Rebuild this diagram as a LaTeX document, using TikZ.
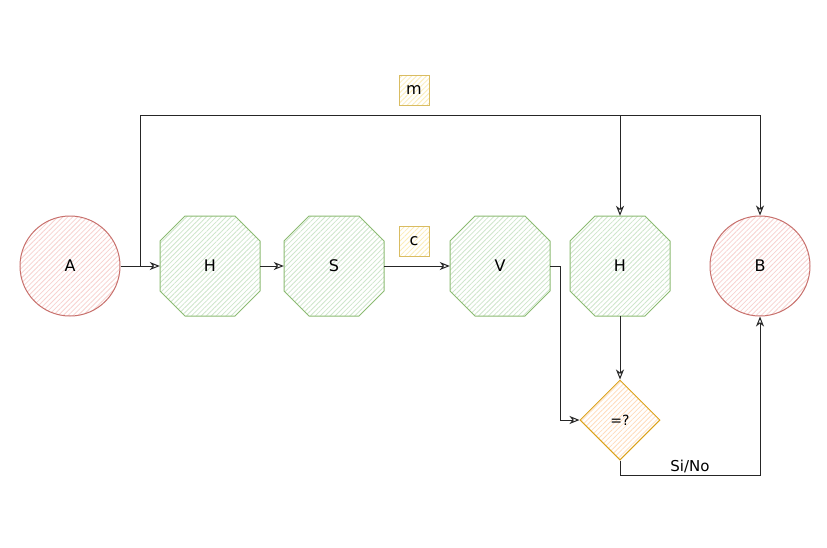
\documentclass[tikz,border=0pt]{standalone}
\usepackage{fontspec}
\setmainfont{DejaVu Sans}
\usetikzlibrary{arrows.meta,patterns.meta,shapes.geometric}
\definecolor{redst}{HTML}{C8706C}
\definecolor{redhatch}{HTML}{F8D2D0}
\definecolor{greenst}{HTML}{8CBB72}
\definecolor{greenhatch}{HTML}{CFE6CC}
\definecolor{orangest}{HTML}{DBA21A}
\definecolor{orangehatch}{HTML}{FFDCBC}
\definecolor{yellowst}{HTML}{D9BC62}
\definecolor{yellowhatch}{HTML}{FCEDB8}
\tikzset{
  hatch/.style={pattern={Lines[angle=45,distance=3.5pt,line width=0.8pt]}, pattern color=#1},
  circ/.style={circle, draw=redst, line width=1pt, minimum size=100pt, inner sep=0pt, hatch=redhatch, font=\fontsize{16}{19}\selectfont},
  octbox/.style={rectangle, minimum width=100pt, minimum height=100pt, inner sep=0pt, font=\fontsize{16}{19}\selectfont},
  octline/.style={draw=greenst, line width=1pt, hatch=greenhatch, line join=round},
  dia/.style={diamond, draw=orangest, line width=1pt, minimum width=80pt, minimum height=80pt, inner sep=0pt, hatch=orangehatch, font=\fontsize{14}{17}\selectfont},
  lbl/.style={rectangle, draw=yellowst, line width=1pt, minimum size=30pt, inner sep=0pt, hatch=yellowhatch, font=\fontsize{16}{19}\selectfont},
  conn/.style={draw=black!85, line width=1pt},
  arr/.style={conn, -{Stealth[open, length=10pt, width=8pt, inset=3pt]}}
}
\newcommand\octshape[2]{%
  \path[octline] (#1,#2) ++(-50,-25) -- ++(0,50) -- ++(25,25) -- ++(50,0) -- ++(25,-25) -- ++(0,-50) -- ++(-25,-25) -- ++(-50,0) -- cycle;}
\begin{document}
\begin{tikzpicture}[x=1pt,y=-1pt]
\useasboundingbox[fill=white] (0,0) rectangle (827,547);
% shapes
\octshape{210}{266}
\octshape{334}{266}
\octshape{500}{266}
\octshape{620}{266}
\node[circ] (a) at (70,266) {A};
\node[circ] (b) at (760,266) {B};
\node[octbox] (h1) at (210,266) {H};
\node[octbox] (s) at (334,266) {S};
\node[octbox] (v) at (500,266) {V};
\node[octbox] (h2) at (620,266) {H};
\node[dia] (d) at (620,420) {=?};
\node[lbl] (m) at (414,90) {m};
\node[lbl] (c) at (414,241) {c};
% connectors
\coordinate (j) at (140,266);
\coordinate (t1) at (140,115);
\coordinate (t2) at (620,115);
\coordinate (t3) at (760,115);
\coordinate (vr) at (560,266);
\coordinate (db) at (620,475);
\draw[arr] (a) -- (h1);
\draw[arr] (h1) -- (s);
\draw[arr] (s) -- (v);
\draw[conn] (j) -- (t1) -- (t3);
\draw[arr] (t2) -- (h2);
\draw[arr] (t3) -- (b);
\draw[arr] (v.east) -- (vr) |- (d.west);
\draw[arr] (h2) -- (d);
\draw[arr] (d.south) -- (db) -| (b.south);
\node[font=\fontsize{15}{18}\selectfont] (sn) at (690,466) {Si/No};
\end{tikzpicture}
\end{document}
